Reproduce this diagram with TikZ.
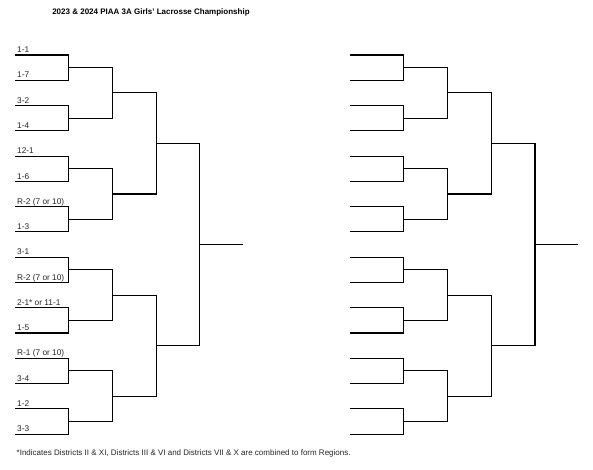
\documentclass[tikz,border=0pt]{standalone}
\usepackage{fontspec}
\setmainfont{Liberation Sans}
\newcommand\bracketdraw[7]{%
  \foreach \k in {0,...,15}{\coordinate (#1-0-\k) at (#2, 55+25.27*\k);}
  \foreach \r/\xr/\n in {1/#3/8, 2/#4/4, 3/#5/2, 4/#6/1}{
    \pgfmathtruncatemacro\lastj{\n-1}
    \pgfmathtruncatemacro\prevr{\r-1}
    \foreach \j in {0,...,\lastj}{
      \pgfmathtruncatemacro\ja{2*\j}
      \pgfmathtruncatemacro\jb{2*\j+1}
      \pgfmathsetmacro\yy{55+25.27*(\j*2^\r+(2^\r-1)/2)}
      \coordinate (#1-\r-\j) at (\xr,\yy);
      \draw[bline] (#1-\prevr-\ja) -| (#1-\r-\j);
      \draw[bline] (#1-\prevr-\jb) -| (#1-\r-\j);
    }
  }
  \coordinate (#1-end) at (#7, 55+25.27*7.5);
  \draw[bline] (#1-4-0) -- (#1-end);
}
\begin{document}
\begin{tikzpicture}[x=1pt,y=-1pt,
  bline/.style={draw=black, line width=1.1pt},
  lbl/.style={anchor=base west, inner sep=0pt, font=\fontsize{8.3}{9}\selectfont, text=black!85}]
\useasboundingbox[fill=white] (0,0) rectangle (593,470);
\node[font=\bfseries\fontsize{8}{9}\selectfont, inner sep=0pt] (title) at (151,12.7)
  {2023 \& 2024 PIAA 3A Girls' Lacrosse Championship};
\bracketdraw{L}{15}{68.3}{112.7}{156.7}{199.5}{243.3}
\bracketdraw{R}{350}{403.3}{447.3}{491.7}{535}{578.3}
\foreach \k/\t in {0/1-1, 1/1-7, 2/3-2, 3/1-4, 4/12-1, 5/1-6, 6/R-2 (7 or 10), 7/1-3,
  8/3-1, 9/R-2 (7 or 10), 10/2-1* or 11-1, 11/1-5, 12/R-1 (7 or 10), 13/3-4, 14/1-2, 15/3-3}{
  \node[lbl] (lab\k) at ([xshift=2pt, yshift=2.3pt]L-0-\k) {\t};
}
\node[anchor=west, inner sep=0pt, font=\fontsize{8}{9}\selectfont, text=black!85] (note) at (16.5,453)
  {*Indicates Districts II \& XI, Districts III \& VI and Districts VII \& X are combined to form Regions.};
\end{tikzpicture}
\end{document}
